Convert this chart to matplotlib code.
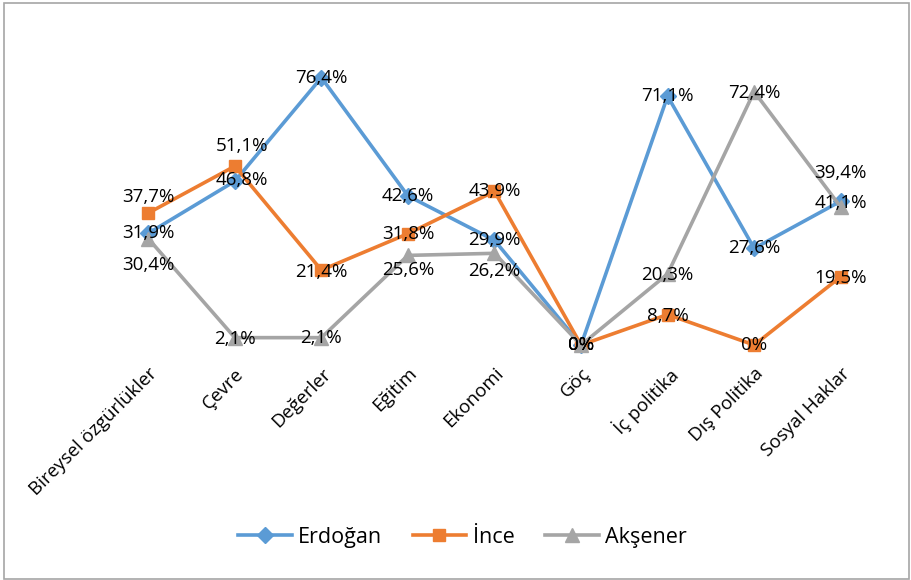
import numpy as np
import matplotlib
matplotlib.use("Agg")
import matplotlib.pyplot as plt
from matplotlib.patches import Rectangle

plt.rcParams['font.family'] = ['Open Sans', 'DejaVu Sans']

categories = ["Bireysel özgürlükler", "Çevre", "Değerler", "Eğitim", "Ekonomi",
              "Göç", "İç politika", "Dış Politika", "Sosyal Haklar"]
erdogan = [31.9, 46.8, 76.4, 42.6, 29.9, 0, 71.1, 27.6, 41.1]
ince = [37.7, 51.1, 21.4, 31.8, 43.9, 0, 8.7, 0, 19.5]
aksener = [30.4, 2.1, 2.1, 25.6, 26.2, 0, 20.3, 72.4, 39.4]

# label nudges in pixels (dx, dy), positive dy is up
erdogan_off = [(0, 0), (7, 1), (0, 0), (0, 0), (0, 0), (0, 0), (0, 0), (0, 0), (0, -2)]
ince_off = [(0, 16), (7, 20), (0, -2), (0, 0), (0, 0), (0, 0), (0, -1), (0, 0), (0, -1)]
aksener_off = [(0, -26), (0, -1), (0, 0), (0, -15), (0, -18), (0, 0), (0, -1), (0, -1), (0, 34)]


def fmt(v):
    if v == 0:
        return "0%"
    return f"{v:.1f}".replace(".", ",") + "%"


fig = plt.figure(figsize=(9.12, 5.8), dpi=100)
ax = fig.add_axes([105 / 912, 1 - 345 / 580, 779 / 912, 315 / 580])

x = np.arange(len(categories))
series = [
    ("Erdoğan", erdogan, erdogan_off, "#5B9BD5", "D", 8),
    ("İnce", ince, ince_off, "#ED7D31", "s", 9),
    ("Akşener", aksener, aksener_off, "#A5A5A5", "^", 10),
]
for name, vals, offs, col, mk, ms in series:
    ax.plot(x, vals, color=col, lw=2.6, marker=mk, ms=ms, label=name,
            solid_joinstyle="round", clip_on=False)

for name, vals, offs, col, mk, ms in series:
    for xi, v, (dx, dy) in zip(x, vals, offs):
        ax.annotate(fmt(v), (xi, v), xytext=(dx, dy), textcoords="offset pixels",
                    ha="center", va="center", fontsize=13.5, color="#000000",
                    zorder=5)

ax.set_xlim(-0.5, len(categories) - 0.5)
ax.set_ylim(0, 90)
ax.set_yticks([])
ax.set_xticks(x)
ax.set_xticklabels(categories, rotation=45, ha="right", va="top",
                   rotation_mode="anchor", fontsize=13.5)
ax.tick_params(axis="x", length=0, pad=14)
for s in ax.spines.values():
    s.set_visible(False)

fig.legend(loc="center", bbox_to_anchor=(0.507, 0.074), ncol=3, frameon=False,
           fontsize=15.5, handlelength=2.5, columnspacing=1.4, handletextpad=0.3)

# chart area border
fig.patches.append(Rectangle((4.5 / 912, 1.5 / 580), 905 / 912, 576 / 580,
                             transform=fig.transFigure, fill=False,
                             edgecolor="#A6A6A6", lw=1.2))

fig.savefig("out.png", dpi=100)
